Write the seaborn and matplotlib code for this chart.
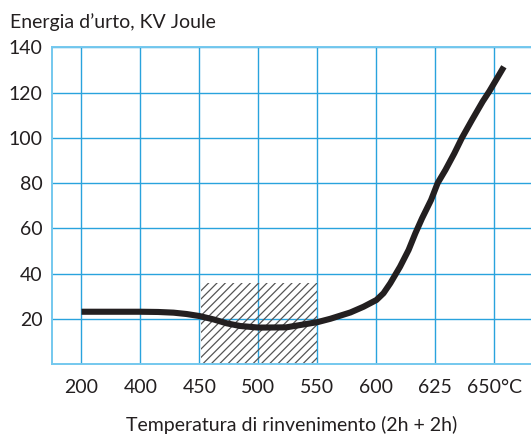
import matplotlib
matplotlib.use("Agg")
import matplotlib.pyplot as plt
import seaborn as sns
import numpy as np
import pandas as pd

# ---- data ----
temp_labels = ["200", "400", "450", "500", "550", "600", "625", "650°C"]
y_ticks = [20, 40, 60, 80, 100, 120, 140]

# curve: position along the category axis, energy (J)
curve_pos = [0.00, 1.00, 1.30, 1.56, 1.78, 2.00, 2.24, 2.46, 2.69, 3.00, 3.47,
             4.00, 4.22, 4.56, 4.78, 5.00, 5.12, 5.235, 5.40, 5.545, 5.66,
             5.773, 5.926, 6.038, 6.17, 6.32, 6.45, 6.62, 6.80, 6.915, 7.16]
curve_val = [23.1, 23.1, 23.0, 22.7, 22.1, 21.2, 19.7, 18.0, 16.8, 16.1, 16.2,
             18.5, 20.0, 22.8, 25.3, 28.3, 31.3, 35.7, 43.0, 50.4, 57.8,
             64.4, 72.5, 80.0, 85.8, 93.1, 100.0, 107.9, 116.0, 120.6, 131.4]

# hatched zone (category positions) and its height
zone_pos = [2.03, 4.00]
zone_top = 36

# ---- style ----
sns.set_style("white")
plt.rcParams["font.family"] = ["Lato", "DejaVu Sans"]
plt.rcParams["hatch.linewidth"] = 0.9

grid_c = "#29a3dd"
spine_c = "#74c8ee"
text_c = "#231f20"

fig = plt.figure(figsize=(5.31, 4.34), dpi=100)
ax = fig.add_axes([51.7 / 531, (434 - 364) / 434, 1 - 51.7 / 531, (364 - 47.3) / 434])

# hatched zone
ax.fill_between(zone_pos, 0, zone_top, facecolor="none", edgecolor="#555555",
                hatch="////", linewidth=0, zorder=1)

df = pd.DataFrame({"pos": curve_pos, "val": curve_val})
sns.lineplot(data=df, x="pos", y="val", ax=ax, color=text_c, linewidth=4.4,
             solid_capstyle="butt", solid_joinstyle="round", zorder=3, sort=False)

ax.set_xlim(-0.505, 7.62)
ax.set_ylim(0, 140)
ax.set_xticks(range(len(temp_labels)))
ax.set_xticklabels(temp_labels)
ax.set_yticks(y_ticks)
ax.set_yticklabels([str(v) for v in y_ticks])

ax.grid(True, color=grid_c, linewidth=1.0, zorder=0)
ax.set_axisbelow(True)
ax.tick_params(axis="both", length=0, labelsize=14, colors=text_c)
ax.tick_params(axis="x", pad=10.5)
ax.tick_params(axis="y", pad=6.5)

for side in ["left", "bottom", "top"]:
    ax.spines[side].set_color(spine_c)
    ax.spines[side].set_linewidth(1.4)
ax.spines["right"].set_visible(False)

ax.set_xlabel("Temperatura di rinvenimento (2h + 2h)", fontsize=14, color=text_c, labelpad=15)
ax.set_ylabel("")

fig.text(10 / 531, 1 - 28 / 434, "Energia d\u2019urto, KV Joule", fontsize=14,
         color=text_c, ha="left", va="baseline")

fig.savefig("out.png", dpi=100)
